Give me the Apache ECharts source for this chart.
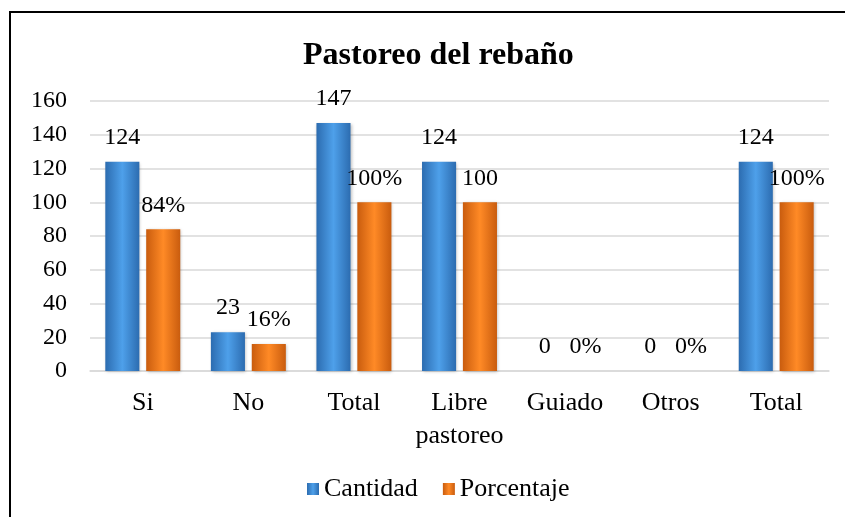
<!DOCTYPE html>
<html>
<head>
<meta charset="utf-8">
<script src="https://cdn.jsdelivr.net/npm/echarts@6/dist/echarts.min.js"></script>
<style>
  html, body { margin: 0; padding: 0; background: #fff; }
  #chart { width: 845px; height: 517px; }
</style>
</head>
<body>
<div id="chart"></div>
<script>
// datos del gráfico
let categorias = ['Si', 'No', 'Total', 'Libre\npastoreo', 'Guiado', 'Otros', 'Total'];
let cantidad = [124, 23, 147, 124, 0, 0, 124];
let porcentaje = [84, 16, 100, 100, 0, 0, 100];
let etiquetasPorc = ['84%', '16%', '100%', '100', '0%', '0%', '100%'];
let ticksY = [0, 20, 40, 60, 80, 100, 120, 140, 160];

const fuente = '"Liberation Serif", "Times New Roman", serif';

function degradado(borde, centro) {
	return new echarts.graphic.LinearGradient(0, 0, 1, 0, [
		{ offset: 0, color: borde },
		{ offset: 0.5, color: centro },
		{ offset: 1, color: borde }
	]);
}

let chart = echarts.init(document.getElementById('chart'));

let option = {
	backgroundColor: '#fff',
	animation: false,
	title: {
		text: 'Pastoreo del rebaño',
		left: 298,
		top: 35,
		textStyle: { fontFamily: fuente, fontSize: 32, fontWeight: 'bold', color: '#000' }
	},
	legend: {
		bottom: 10,
		left: 302,
		itemWidth: 12,
		itemHeight: 12,
		itemGap: 25,
		icon: 'rect',
		textStyle: { fontFamily: fuente, fontSize: 26, color: '#000' },
		data: ['Cantidad', 'Porcentaje']
	},
	grid: { left: 90, right: 16, top: 101, bottom: 146 },
	xAxis: {
		type: 'category',
		data: categorias,
		axisLine: { lineStyle: { color: '#d9d9d9', width: 1.5 } },
		axisTick: { show: false },
		axisLabel: { interval: 0, fontFamily: fuente, fontSize: 26, color: '#000', margin: 16, lineHeight: 33 }
	},
	yAxis: {
		type: 'value',
		min: ticksY[0],
		max: ticksY[ticksY.length - 1],
		interval: 20,
		axisLine: { show: false },
		axisTick: { show: false },
		splitLine: { lineStyle: { color: '#d9d9d9', width: 1.5 } },
		axisLabel: { fontFamily: fuente, fontSize: 24, color: '#000', margin: 23 }
	},
	series: [
		{
			name: 'Cantidad',
			type: 'bar',
			data: cantidad,
			barGap: '20%',
			barCategoryGap: '29%',
			itemStyle: {
				color: degradado('#2c6cb0', '#4ea0ea'),
				shadowColor: 'rgba(0,0,0,0.25)',
				shadowBlur: 3,
				shadowOffsetX: 1,
				shadowOffsetY: 1
			},
			label: {
				show: true,
				position: 'top',
				distance: 12,
				fontFamily: fuente,
				fontSize: 24,
				color: '#000'
			}
		},
		{
			name: 'Porcentaje',
			type: 'bar',
			data: porcentaje,
			itemStyle: {
				color: degradado('#c95c0e', '#ff8a26'),
				shadowColor: 'rgba(0,0,0,0.25)',
				shadowBlur: 3,
				shadowOffsetX: 1,
				shadowOffsetY: 1
			},
			label: {
				show: true,
				position: 'top',
				distance: 12,
				fontFamily: fuente,
				fontSize: 24,
				color: '#000',
				formatter: function (p) { return etiquetasPorc[p.dataIndex]; }
			}
		}
	],
	graphic: [{
		type: 'rect',
		shape: { x: 10, y: 12, width: 900, height: 600 },
		style: { fill: 'none', stroke: '#000', lineWidth: 2 },
		silent: true
	}]
};

chart.setOption(option);
</script>
</body>
</html>
